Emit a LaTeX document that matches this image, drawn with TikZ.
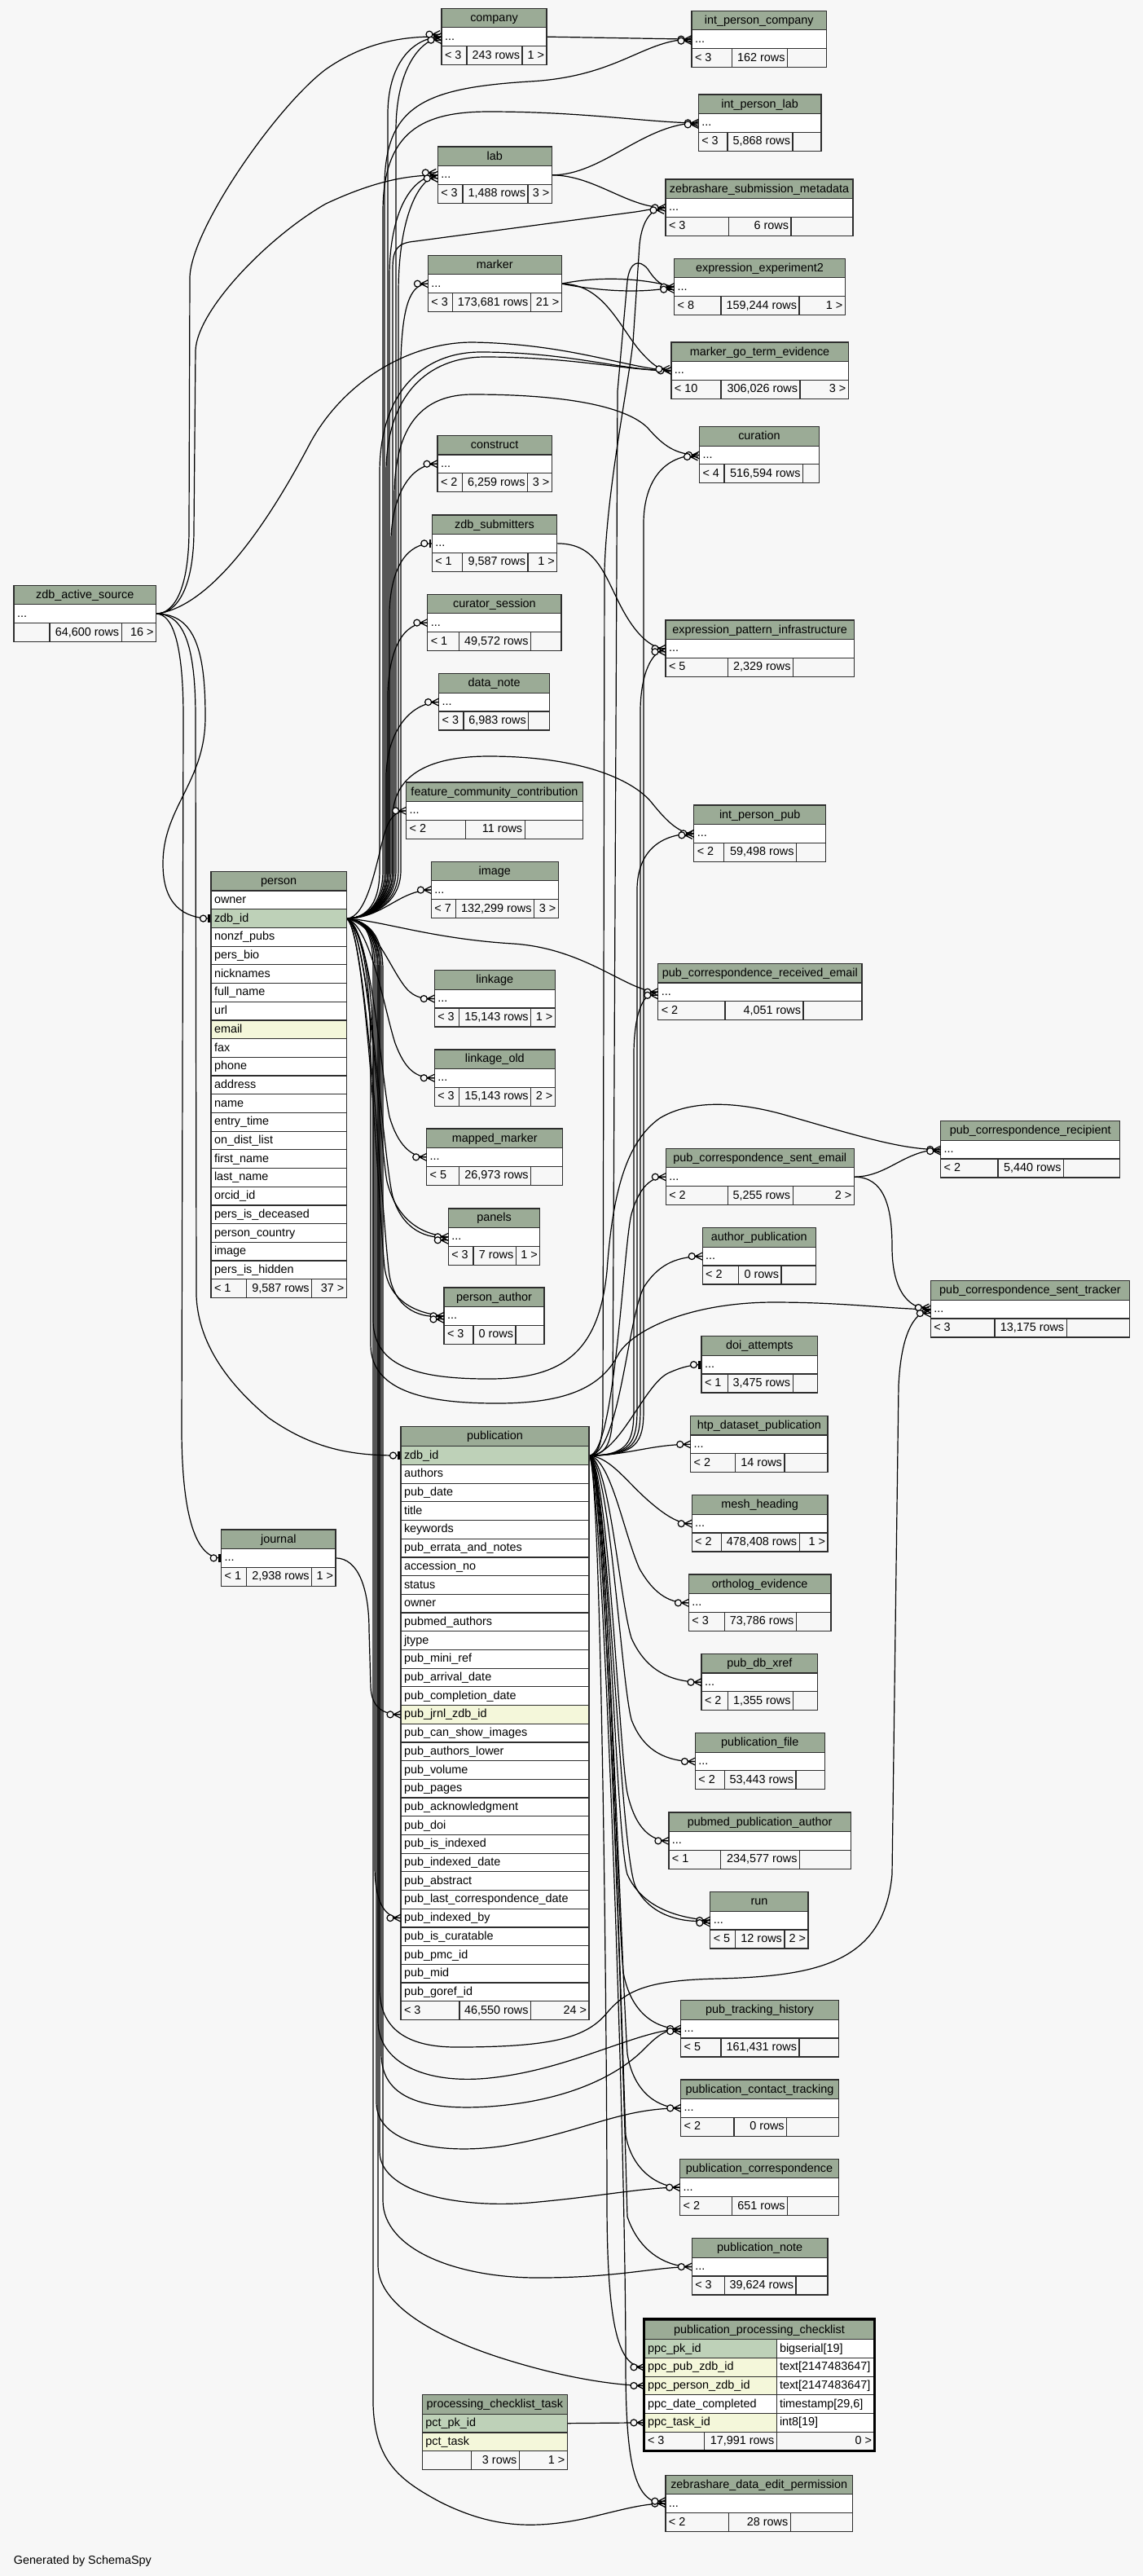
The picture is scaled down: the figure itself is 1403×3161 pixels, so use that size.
\documentclass[tikz,border=0pt]{standalone}
\usepackage{fontspec}
\setmainfont{Liberation Sans}
\usetikzlibrary{calc}
\pgfdeclarelayer{back}
\pgfdeclarelayer{edges}
\pgfsetlayers{back,edges,main}
\definecolor{bg}{HTML}{F7F7F7}
\definecolor{hd}{HTML}{9BAB96}
\definecolor{pk}{HTML}{BED1B8}
\definecolor{ix}{HTML}{F4F7DA}
\definecolor{lc}{HTML}{2E2E2E}
\newcommand\ftsz{\fontsize{7.2pt}{8.6pt}\selectfont}
\tikzset{
  cell/.style={draw=lc, line width=0.6pt, inner sep=0pt, outer sep=0pt},
  txt/.style={inner sep=0pt, outer sep=0pt, font=\ftsz, text=black},
  fkline/.style={line width=0.6pt, draw=black},
  crowo/.pic={\draw[fkline] (-9,0) -- (0,-4.5) (-9,0) -- (0,4.5) (-9,0) -- (0,0);
              \draw[fkline, fill=bg] (-13,0) circle[radius=4];},
  teeo/.pic={\draw[line width=1.3pt] (-2.5,-5) -- (-2.5,5);
             \draw[fkline, fill=bg] (-9.5,0) circle[radius=4];}
}
\newcommand\thead[6]{%
  \pgfmathsetmacro\tkW{(#3-#2)*0.5}%
  \pgfmathsetmacro\tkH{(#5)*0.5}%
  \node[cell, fill=hd, minimum width=\tkW pt, minimum height=\tkH pt, anchor=north west] (#1) at ({#2},{#4}) {};
  \node[txt, anchor=base] (#1-t) at ({(#2+#3)/2},{#4+(#5)/2+4.3}) {#6};
}
\newcommand\prow[6]{%
  \pgfmathsetmacro\tkW{(#3-#2)*0.5}%
  \node[cell, fill=#6, minimum width=\tkW pt, minimum height=11.35pt, anchor=north west] (#1) at ({#2},{#4}) {};
  \node[txt, anchor=base west] (#1-t) at ({#2+4},{#4+15.4}) {#5};
}
\newcommand\foot[9]{%
  \pgfmathsetmacro\tkA{(#3-#2)*0.5}\pgfmathsetmacro\tkB{(#4-#3)*0.5}\pgfmathsetmacro\tkC{(#5-#4)*0.5}%
  \node[cell, fill=bg, minimum width=\tkA pt, minimum height=11.5pt, anchor=north west] (#1-fa) at ({#2},{#6}) {};
  \node[cell, fill=bg, minimum width=\tkB pt, minimum height=11.5pt, anchor=north west] (#1-fb) at ({#3},{#6}) {};
  \node[cell, fill=bg, minimum width=\tkC pt, minimum height=11.5pt, anchor=north west] (#1-fc) at ({#4},{#6}) {};
  \node[txt, anchor=base west] (#1-ta) at ({#2+4},{#6+15.6}) {#7};
  \node[txt, anchor=base east] (#1-tb) at ({#4-3},{#6+15.6}) {#8};
  \node[txt, anchor=base east] (#1-tc) at ({#5-3},{#6+15.6}) {#9};
}
\newcommand\stbl[5]{%
  \thead{#1-h}{#2}{#3}{#4}{23.5}{#5}%
  \prow{#1}{#2}{#3}{#4+23.5}{...}{white}%
  \gdef\lnm{#1}\gdef\lxa{#2}\gdef\lxb{#3}\gdef\lyt{#4}%
}
\newcommand\sfoot[5]{\foot{\lnm}{\lxa}{#1}{#2}{\lxb}{\lyt+46.2}{#3}{#4}{#5}}
\newcommand\trow[5]{%
  \node[cell, fill=#5, minimum width=81.15pt, minimum height=11.35pt, anchor=north west] (#1) at (791,{#2}) {};
  \node[cell, fill=white, minimum width=59.85pt, minimum height=11.35pt, anchor=north west] (#1-r) at (953.3,{#2}) {};
  \node[txt, anchor=base west] (#1-t) at (795,{#2+15.4}) {#3};
  \node[txt, anchor=base west] (#1-u) at (957,{#2+15.4}) {#4};
}
\begin{document}
\begin{tikzpicture}[x=0.5pt,y=-0.5pt]
\begin{pgfonlayer}{back}
\fill[bg] (0,0) rectangle (1403,3161);
\end{pgfonlayer}
\useasboundingbox (0,0) rectangle (1403,3161);

% ---------- simple tables ----------
\stbl{company}{542}{671}{10.3}{company} \sfoot{573}{641}{< 3}{243 rows}{1 >}
\stbl{ipc}{849}{1014.5}{13.3}{int\_person\_company} \sfoot{898.5}{966.6}{< 3}{162 rows}{}
\stbl{ipl}{857.3}{1008}{116}{int\_person\_lab} \sfoot{893}{973}{< 3}{5,868 rows}{}
\stbl{lab}{537.3}{677.3}{180}{lab} \sfoot{568}{648}{< 3}{1,488 rows}{3 >}
\stbl{zsm}{817}{1047}{220}{zebrashare\_submission\_metadata} \sfoot{894.7}{971}{< 3}{6 rows}{}
\stbl{marker}{525.4}{689.2}{313.3}{marker} \sfoot{555.6}{651.3}{< 3}{173,681 rows}{21 >}
\stbl{ee2}{827.7}{1037.4}{317.3}{expression\_experiment2} \sfoot{885}{981}{< 8}{159,244 rows}{1 >}
\stbl{mgte}{823.9}{1041.3}{420}{marker\_go\_term\_evidence} \sfoot{885}{982}{< 10}{306,026 rows}{3 >}
\stbl{curation}{858.5}{1005.3}{523.6}{curation} \sfoot{889}{985.5}{< 4}{516,594 rows}{}
\stbl{construct}{537}{677.2}{534.4}{construct} \sfoot{567.7}{647.6}{< 2}{6,259 rows}{3 >}
\stbl{zdbs}{530.3}{683.8}{632}{zdb\_submitters} \sfoot{567.7}{648}{< 1}{9,587 rows}{1 >}
\stbl{cs}{524.8}{689}{729.3}{curator\_session} \sfoot{563.4}{651.5}{< 1}{49,572 rows}{}
\stbl{epi}{817}{1048.3}{761}{expression\_pattern\_infrastructure} \sfoot{893.3}{973.5}{< 5}{2,329 rows}{}
\stbl{dn}{538.6}{674.5}{826.7}{data\_note} \sfoot{568.9}{648.8}{< 3}{6,983 rows}{}
\stbl{fcc}{498.6}{715.3}{960}{feature\_community\_contribution} \sfoot{571.6}{644.2}{< 2}{11 rows}{}
\stbl{ipp}{851.8}{1013.5}{988}{int\_person\_pub} \sfoot{888.8}{977.6}{< 2}{59,498 rows}{}
\stbl{image}{529.4}{685.2}{1057.2}{image} \sfoot{559.7}{655.6}{< 7}{132,299 rows}{3 >}
\stbl{pcre}{807.8}{1057.9}{1182.4}{pub\_correspondence\_received\_email} \sfoot{890}{986}{< 2}{4,051 rows}{}
\stbl{linkage}{533.3}{681.3}{1190.7}{linkage} \sfoot{563.7}{651.7}{< 3}{15,143 rows}{1 >}
\stbl{lo}{533.3}{681.3}{1287.9}{linkage\_old} \sfoot{563.7}{651.7}{< 3}{15,143 rows}{2 >}
\stbl{mm}{523.7}{690.7}{1385}{mapped\_marker} \sfoot{563.3}{651.7}{< 5}{26,973 rows}{}
\stbl{pcr}{1154.7}{1374.8}{1375.7}{pub\_correspondence\_recipient} \sfoot{1225}{1305.5}{< 2}{5,440 rows}{}
\stbl{pcse}{817.3}{1048.2}{1409.3}{pub\_correspondence\_sent\_email} \sfoot{893.2}{973.1}{< 2}{5,255 rows}{2 >}
\stbl{panels}{550.3}{662.7}{1482.9}{panels} \sfoot{581}{633.3}{< 3}{7 rows}{1 >}
\stbl{ap}{862.2}{1001.3}{1506.7}{author\_publication} \sfoot{906.7}{959}{< 2}{0 rows}{}
\stbl{pcst}{1142.3}{1386.7}{1571.7}{pub\_correspondence\_sent\_tracker} \sfoot{1221}{1309.2}{< 3}{13,175 rows}{}
\stbl{pa}{545}{668}{1580}{person\_author} \sfoot{581}{633}{< 3}{0 rows}{}
\stbl{doi}{861}{1003.7}{1639.7}{doi\_attempts} \sfoot{893.2}{973.1}{< 1}{3,475 rows}{}
\stbl{htp}{847.7}{1016}{1737.5}{htp\_dataset\_publication} \sfoot{902.8}{962.9}{< 2}{14 rows}{}
\stbl{mesh}{849.2}{1016}{1834.8}{mesh\_heading} \sfoot{885.2}{981.2}{< 2}{478,408 rows}{1 >}
\stbl{oe}{845.4}{1019.9}{1932}{ortholog\_evidence} \sfoot{889.4}{977.4}{< 3}{73,786 rows}{}
\stbl{pdx}{861}{1003.8}{2029.4}{pub\_db\_xref} \sfoot{893.6}{973.6}{< 2}{1,355 rows}{}
\stbl{pf}{853.4}{1012.2}{2126.6}{publication\_file} \sfoot{889.4}{977}{< 2}{53,443 rows}{}
\stbl{ppa}{820.9}{1044.4}{2224}{pubmed\_publication\_author} \sfoot{884.8}{981.6}{< 1}{234,577 rows}{}
\stbl{run}{871.8}{992}{2321.7}{run} \sfoot{902.8}{962.9}{< 5}{12 rows}{2 >}
\stbl{pth}{835.7}{1029.3}{2454.7}{pub\_tracking\_history} \sfoot{885}{981}{< 5}{161,431 rows}{}
\stbl{pct}{835.7}{1029.3}{2552}{publication\_contact\_tracking} \sfoot{901}{965.7}{< 2}{0 rows}{}
\stbl{pcorr}{834.7}{1029.3}{2649.3}{publication\_correspondence} \sfoot{898.7}{966.7}{< 2}{651 rows}{}
\stbl{pnote}{849.3}{1016}{2746.7}{publication\_note} \sfoot{889.3}{977}{< 3}{39,624 rows}{}
\stbl{zdep}{816.9}{1046.6}{3037.3}{zebrashare\_data\_edit\_permission} \sfoot{894.8}{970.3}{< 2}{28 rows}{}
\stbl{journal}{271.7}{412}{1877}{journal} \sfoot{302.7}{382.7}{< 1}{2,938 rows}{1 >}
\stbl{zas}{17}{191.5}{718.3}{zdb\_active\_source} \sfoot{61}{149.2}{}{64,600 rows}{16 >}

% ---------- person ----------
\thead{perh}{259}{425.3}{1069.6}{23.4}{person}
\foreach \t [count=\i from 0] in {owner, zdb\_id, nonzf\_pubs, pers\_bio, nicknames, full\_name, url, email, fax, phone, address, name, entry\_time, on\_dist\_list, first\_name, last\_name, orcid\_id, pers\_is\_deceased, person\_country, image, pers\_is\_hidden}{
  \ifnum\i=1 \def\fc{pk}\else\ifnum\i=7 \def\fc{ix}\else\def\fc{white}\fi\fi
  \prow{per\i}{259}{425.3}{1093+\i*22.7}{\t}{\fc}
}
\foot{perf}{259}{302.3}{382.7}{425.3}{1569.7}{< 1}{9,587 rows}{37 >}

% ---------- publication ----------
\thead{pubh}{492}{723}{1750.6}{24.1}{publication}
\foreach \t [count=\i from 0] in {zdb\_id, authors, pub\_date, title, keywords, pub\_errata\_and\_notes, accession\_no, status, owner, pubmed\_authors, jtype, pub\_mini\_ref, pub\_arrival\_date, pub\_completion\_date, pub\_jrnl\_zdb\_id, pub\_can\_show\_images, pub\_authors\_lower, pub\_volume, pub\_pages, pub\_acknowledgment, pub\_doi, pub\_is\_indexed, pub\_indexed\_date, pub\_abstract, pub\_last\_correspondence\_date, pub\_indexed\_by, pub\_is\_curatable, pub\_pmc\_id, pub\_mid, pub\_goref\_id}{
  \ifnum\i=0 \def\fc{pk}\else\ifnum\i=14 \def\fc{ix}\else\def\fc{white}\fi\fi
  \prow{pub\i}{492}{723}{1774.7+\i*22.7}{\t}{\fc}
}
\foot{pubf}{492}{564}{651.6}{723}{2455.7}{< 3}{46,550 rows}{24 >}

% ---------- processing_checklist_task ----------
\thead{pckth}{518.4}{696.3}{2938.3}{24}{processing\_checklist\_task}
\prow{pckt1}{518.4}{696.3}{2962.3}{pct\_pk\_id}{pk}
\prow{pckt2}{518.4}{696.3}{2985}{pct\_task}{ix}
\foot{pcktf}{518.4}{578.5}{637.4}{696.3}{3007.7}{}{3 rows}{1 >}

% ---------- publication_processing_checklist ----------
\thead{ppch}{791}{1073}{2847}{23.7}{publication\_processing\_checklist}
\trow{ppc1}{2870.7}{ppc\_pk\_id}{bigserial[19]}{pk}
\trow{ppc2}{2893.4}{ppc\_pub\_zdb\_id}{text[2147483647]}{ix}
\trow{ppc3}{2916.1}{ppc\_person\_zdb\_id}{text[2147483647]}{ix}
\trow{ppc4}{2938.8}{ppc\_date\_completed}{timestamp[29,6]}{white}
\trow{ppc5}{2961.5}{ppc\_task\_id}{int8[19]}{ix}
\foot{ppcf}{791}{864.7}{953.3}{1073}{2984.2}{< 3}{17,991 rows}{0 >}
\draw[line width=1.6pt, draw=black] (790.4,2845.8) rectangle (1073.6,3007.6);

\node[txt, anchor=base west] (gen) at (17,3146) {Generated by SchemaSpy};

% ---------- connectors ----------
\begin{pgfonlayer}{edges}
% zdb_active_source
\draw[fkline] (zas.east) .. controls (215,753) and (232,720) .. (232,650) -- (233,340) .. controls (235,280) and (340,130) .. (400,85) .. controls (450,50) and (500,44) .. (company.west);
\draw[fkline] (zas.east) .. controls (218,753) and (238,720) .. (238,650) -- (240,430) .. controls (242,380) and (330,290) .. (400,250) .. controls (460,222) and (500,215) .. (lab.west);
\draw[fkline] (zas.east) .. controls (260,745) and (330,640) .. (380,545) .. controls (420,470) and (500,420) .. (580,420) .. controls (700,422) and (770,452) .. (mgte.west);
\draw[fkline] (zas.east) .. controls (240,753) and (252,800) .. (252,880) .. controls (252,960) and (200,990) .. (200,1060) .. controls (200,1110) and (225,1127) .. (per1.west);
\draw[fkline] (zas.east) .. controls (225,753) and (240,790) .. (240,880) -- (241,1590) .. controls (243,1640) and (270,1690) .. (330,1740) .. controls (390,1782) and (440,1786) .. (pub0.west);
\draw[fkline] (zas.east) .. controls (212,753) and (225,790) .. (225,880) -- (223,1760) .. controls (224,1860) and (240,1912) .. (journal.west);
% person, upwards
\draw[fkline] (per1.east) .. controls (445,1127) and (476,1115) .. (476,1068) -- (476,140) .. controls (476,80) and (505,46) .. (company.west);
\draw[fkline] (per1.east) .. controls (445,1127) and (486,1115) .. (486,1068) -- (486,160) .. controls (486,90) and (512,50) .. (company.west);
\draw[fkline] (per1.east) .. controls (445,1127) and (472,1115) .. (472,1068) -- (472,230) .. controls (472,130) and (520,108) .. (650,100) .. controls (760,94) and (790,48) .. (ipc.west);
\draw[fkline] (per1.east) .. controls (445,1127) and (470,1115) .. (470,1068) -- (470,260) .. controls (470,160) and (520,137) .. (600,137) .. controls (720,137) and (800,151) .. (ipl.west);
\draw[fkline] (per1.east) .. controls (445,1127) and (478,1115) .. (478,1068) -- (478,340) .. controls (478,260) and (505,216) .. (lab.west);
\draw[fkline] (per1.east) .. controls (445,1127) and (489,1115) .. (489,1068) -- (489,360) .. controls (489,270) and (512,220) .. (lab.west);
\draw[fkline] (per1.east) .. controls (445,1127) and (482,1115) .. (482,1068) -- (482,330) .. controls (482,305) and (488,298) .. (510,296) -- (780,260) .. controls (800,257) and (805,255) .. (zsm.west);
\draw[fkline] (per1.east) .. controls (445,1127) and (492,1115) .. (492,1068) -- (492,440) .. controls (494,380) and (502,348) .. (marker.west);
\draw[fkline] (per1.east) .. controls (445,1127) and (466,1115) .. (466,1068) -- (466,580) .. controls (466,480) and (520,432) .. (590,432) .. controls (700,432) and (765,455) .. (mgte.west);
\draw[fkline] (per1.east) .. controls (445,1127) and (474,1115) .. (474,1068) -- (474,580) .. controls (474,485) and (525,438) .. (595,438) .. controls (705,438) and (770,455) .. (mgte.west);
\draw[fkline] (per1.east) .. controls (445,1127) and (484,1115) .. (484,1068) -- (484,610) .. controls (484,520) and (520,484) .. (580,484) .. controls (700,484) and (770,500) .. (795,525) .. controls (815,548) and (830,558) .. (curation.west);
\draw[fkline] (per1.east) .. controls (445,1127) and (480,1115) .. (480,1068) -- (480,660) .. controls (482,605) and (505,569) .. (construct.west);
\draw[fkline] (per1.east) .. controls (445,1127) and (478,1115) .. (478,1068) -- (478,750) .. controls (480,695) and (500,667) .. (zdbs.west);
\draw[fkline] (per1.east) .. controls (445,1127) and (476,1115) .. (476,1068) -- (476,850) .. controls (478,795) and (495,764) .. (cs.west);
\draw[fkline] (per1.east) .. controls (445,1127) and (474,1115) .. (474,1068) -- (474,950) .. controls (476,895) and (505,862) .. (dn.west);
\draw[fkline] (per1.east) .. controls (445,1127) and (482,1115) .. (482,1068) -- (482,1000) .. controls (484,955) and (520,928) .. (600,928) .. controls (720,928) and (780,960) .. (800,985) .. controls (820,1010) and (835,1023) .. (ipp.west);
\draw[fkline] (per1.east) .. controls (450,1127) and (462,1060) .. (470,1030) .. controls (476,1005) and (485,995) .. (fcc.west);
\draw[fkline] (per1.east) .. controls (470,1127) and (490,1092) .. (image.west);
\draw[fkline] (per1.east) .. controls (470,1130) and (530,1152) .. (630,1158) .. controls (720,1164) and (770,1217) .. (pcre.west);
% person, downwards
\draw[fkline] (per1.east) .. controls (460,1135) and (475,1180) .. (495,1208) .. controls (505,1222) and (515,1226) .. (linkage.west);
\draw[fkline] (per1.east) .. controls (455,1135) and (472,1240) .. (485,1280) .. controls (497,1312) and (510,1323) .. (lo.west);
\draw[fkline] (per1.east) .. controls (455,1135) and (468,1320) .. (478,1370) .. controls (488,1405) and (505,1420) .. (mm.west);
\draw[fkline] (per1.east) .. controls (452,1135) and (466,1400) .. (475,1450) .. controls (488,1500) and (520,1515) .. (panels.west);
\draw[fkline] (per1.east) .. controls (452,1135) and (470,1420) .. (482,1468) .. controls (494,1510) and (525,1521) .. (panels.west);
\draw[fkline] (per1.east) .. controls (450,1140) and (466,1500) .. (472,1555) .. controls (478,1600) and (515,1612) .. (pa.west);
\draw[fkline] (per1.east) .. controls (450,1140) and (470,1510) .. (478,1565) .. controls (486,1610) and (520,1618) .. (pa.west);
\draw[fkline] (per1.east) .. controls (445,1140) and (458,1200) .. (458,1300) -- (458,1620) .. controls (458,1680) and (520,1692) .. (600,1692) .. controls (690,1692) and (735,1660) .. (745,1560) .. controls (752,1460) and (770,1400) .. (810,1372) .. controls (850,1348) and (910,1352) .. (970,1370) .. controls (1060,1396) and (1110,1411) .. (pcr.west);
\draw[fkline] (per1.east) .. controls (445,1140) and (455,1200) .. (455,1300) -- (455,1650) .. controls (455,1710) and (530,1722) .. (610,1722) .. controls (700,1722) and (740,1700) .. (760,1660) .. controls (780,1630) and (850,1598) .. (950,1598) .. controls (1040,1598) and (1100,1607) .. (pcst.west);
\draw[fkline] (per1.east) .. controls (445,1129) and (460,1140) .. (460,1190) -- (460,2290) .. controls (460,2330) and (470,2353) .. (pub25.west);
\draw[fkline] (per1.east) .. controls (445,1129) and (466,1140) .. (466,1190) -- (466,2440) .. controls (466,2490) and (500,2512) .. (560,2512) .. controls (680,2512) and (720,2500) .. (745,2470) .. controls (770,2440) and (800,2430) .. (880,2428) .. controls (1000,2425) and (1085,2410) .. (1095,2300) -- (1103,1700) .. controls (1106,1640) and (1120,1611) .. (pcst.west);
\draw[fkline] (per1.east) .. controls (445,1129) and (464,1140) .. (464,1190) -- (464,2480) .. controls (464,2530) and (520,2558) .. (600,2550) .. controls (700,2540) and (780,2492) .. (pth.west);
\draw[fkline] (per1.east) .. controls (445,1129) and (468,1140) .. (468,1190) -- (468,2520) .. controls (468,2575) and (520,2590) .. (600,2585) .. controls (700,2578) and (760,2545) .. (790,2515) .. controls (805,2500) and (815,2490) .. (pth.west);
\draw[fkline] (per1.east) .. controls (445,1129) and (462,1140) .. (462,1190) -- (462,2580) .. controls (462,2630) and (540,2645) .. (620,2633) .. controls (720,2615) and (760,2587) .. (pct.west);
\draw[fkline] (per1.east) .. controls (445,1129) and (466,1140) .. (466,1190) -- (466,2640) .. controls (466,2690) and (560,2710) .. (650,2703) .. controls (740,2695) and (790,2684) .. (pcorr.west);
\draw[fkline] (per1.east) .. controls (445,1129) and (470,1140) .. (470,1190) -- (470,2700) .. controls (470,2760) and (560,2795) .. (660,2795) .. controls (760,2795) and (800,2782) .. (pnote.west);
\draw[fkline] (per1.east) .. controls (445,1129) and (464,1140) .. (464,1190) -- (464,2780) .. controls (464,2830) and (540,2870) .. (620,2895) .. controls (700,2920) and (760,2927) .. (ppc3.west);
\draw[fkline] (per1.east) .. controls (445,1129) and (458,1140) .. (458,1190) -- (458,2950) .. controls (460,3020) and (490,3043) .. (540,3070) .. controls (600,3100) and (650,3105) .. (720,3090) .. controls (770,3078) and (790,3072) .. (zdep.west);
% publication, upwards
\draw[fkline] (pub0.east) .. controls (760,1786) and (790,1700) .. (820,1685) .. controls (840,1676) and (850,1675) .. (doi.west);
\draw[fkline] (pub0.east) .. controls (760,1786) and (770,1620) .. (790,1580) .. controls (810,1548) and (835,1542) .. (ap.west);
\draw[fkline] (pub0.east) .. controls (755,1786) and (765,1530) .. (775,1490) .. controls (785,1455) and (800,1444) .. (pcse.west);
\draw[fkline] (pub0.east) .. controls (770,1786) and (778,1770) .. (778,1730) -- (778,1290) .. controls (779,1240) and (790,1217) .. (pcre.west);
\draw[fkline] (pub0.east) .. controls (774,1786) and (782,1770) .. (782,1730) -- (782,1090) .. controls (783,1045) and (810,1023) .. (ipp.west);
\draw[fkline] (pub0.east) .. controls (778,1786) and (786,1770) .. (786,1730) -- (786,870) .. controls (787,825) and (800,800) .. (epi.west);
\draw[fkline] (pub0.east) .. controls (782,1786) and (790,1770) .. (790,1730) -- (790,640) .. controls (791,590) and (815,558) .. (curation.west);
\draw[fkline] (pub0.east) .. controls (744,1786) and (752,1770) .. (752,1730) -- (758,480) -- (770,345) .. controls (773,320) and (785,318) .. (795,330) .. controls (805,345) and (812,352) .. (ee2.west);
\draw[fkline] (pub0.east) .. controls (735,1786) and (740,1770) .. (740,1730) -- (742,700) .. controls (745,600) and (770,480) .. (777,420) -- (785,300) .. controls (788,270) and (800,255) .. (zsm.west);
% publication, downwards
\draw[fkline] (pub0.east) .. controls (770,1786) and (800,1772) .. (htp.west);
\draw[fkline] (pub0.east) .. controls (750,1788) and (770,1820) .. (800,1845) .. controls (820,1862) and (835,1870) .. (mesh.west);
\draw[fkline] (pub0.east) .. controls (750,1790) and (765,1880) .. (785,1925) .. controls (805,1960) and (825,1967) .. (oe.west);
\draw[fkline] (pub0.east) .. controls (748,1790) and (760,1960) .. (775,2010) .. controls (795,2055) and (830,2064) .. (pdx.west);
\draw[fkline] (pub0.east) .. controls (748,1790) and (762,2060) .. (775,2110) .. controls (790,2150) and (820,2162) .. (pf.west);
\draw[fkline] (pub0.east) .. controls (746,1790) and (760,2150) .. (770,2200) .. controls (780,2245) and (800,2259) .. (ppa.west);
\draw[fkline] (pub0.east) .. controls (746,1790) and (755,2250) .. (770,2300) .. controls (790,2345) and (840,2354) .. (run.west);
\draw[fkline] (pub0.east) .. controls (746,1790) and (760,2270) .. (780,2315) .. controls (800,2355) and (845,2360) .. (run.west);
\draw[fkline] (pub0.east) .. controls (745,1790) and (755,2300) .. (765,2420) .. controls (775,2475) and (810,2490) .. (pth.west);
\draw[fkline] (pub0.east) .. controls (744,1790) and (762,2400) .. (770,2520) .. controls (778,2570) and (810,2587) .. (pct.west);
\draw[fkline] (pub0.east) .. controls (742,1790) and (762,2450) .. (768,2620) .. controls (776,2665) and (810,2684) .. (pcorr.west);
\draw[fkline] (pub0.east) .. controls (742,1790) and (764,2500) .. (770,2720) .. controls (785,2765) and (820,2782) .. (pnote.west);
\draw[fkline] (pub0.east) .. controls (738,1790) and (745,2500) .. (745,2700) .. controls (745,2860) and (760,2905) .. (ppc2.west);
\draw[fkline] (pub0.east) .. controls (738,1790) and (768,2600) .. (768,2900) .. controls (768,3030) and (780,3072) .. (zdep.west);
% others
\draw[fkline] (company.east) -- (ipc.west);
\draw[fkline] (lab.east) .. controls (740,215) and (790,151) .. (ipl.west);
\draw[fkline] (lab.east) .. controls (730,215) and (770,255) .. (zsm.west);
\draw[fkline] (marker.east) .. controls (740,338) and (790,342) .. (ee2.west);
\draw[fkline] (marker.east) .. controls (740,358) and (790,360) .. (ee2.west);
\draw[fkline] (marker.east) .. controls (740,348) and (760,400) .. (785,430) .. controls (800,447) and (810,455) .. (mgte.west);
\draw[fkline] (zdbs.east) .. controls (730,667) and (740,700) .. (760,740) .. controls (780,780) and (800,796) .. (epi.west);
\draw[fkline] (pcse.east) .. controls (1090,1444) and (1110,1411) .. (pcr.west);
\draw[fkline] (pcse.east) .. controls (1085,1444) and (1095,1480) .. (1095,1530) .. controls (1095,1590) and (1120,1607) .. (pcst.west);
\draw[fkline] (journal.east) .. controls (440,1912) and (453,1950) .. (453,2000) -- (455,2070) .. controls (456,2095) and (470,2104) .. (pub14.west);
\draw[fkline] (pckt1.east) -- (ppc5.west);
\end{pgfonlayer}

% ---------- end symbols ----------
\pic at (company.west) {crowo}; \pic[shift={(-2,-3)}] at (company.west) {crowo}; \pic[shift={(0,4)}] at (company.west) {crowo};
\pic at (ipc.west) {crowo}; \pic[shift={(0,2)}] at (ipc.west) {crowo};
\pic at (ipl.west) {crowo}; \pic[shift={(0,2)}] at (ipl.west) {crowo};
\pic at (lab.west) {crowo}; \pic[shift={(-2,-3)}] at (lab.west) {crowo}; \pic[shift={(0,4)}] at (lab.west) {crowo};
\pic at (zsm.west) {crowo}; \pic[shift={(-2,3)}] at (zsm.west) {crowo};
\pic at (marker.west) {crowo};
\pic at (ee2.west) {crowo}; \pic[shift={(0,3)}] at (ee2.west) {crowo};
\pic at (mgte.west) {crowo}; \pic[shift={(-2,-2)}] at (mgte.west) {crowo};
\pic at (curation.west) {crowo}; \pic[shift={(-2,2)}] at (curation.west) {crowo};
\pic at (construct.west) {crowo};
\pic at (zdbs.west) {teeo};
\pic at (cs.west) {crowo};
\pic at (epi.west) {crowo}; \pic[shift={(0,4)}] at (epi.west) {crowo};
\pic at (dn.west) {crowo};
\pic at (fcc.west) {crowo};
\pic at (ipp.west) {crowo}; \pic[shift={(-2,2)}] at (ipp.west) {crowo};
\pic at (image.west) {crowo};
\pic at (pcre.west) {crowo}; \pic[shift={(0,4)}] at (pcre.west) {crowo};
\pic at (linkage.west) {crowo};
\pic at (lo.west) {crowo};
\pic at (mm.west) {crowo};
\pic at (panels.west) {crowo}; \pic[shift={(0,4)}] at (panels.west) {crowo};
\pic at (pa.west) {crowo}; \pic[shift={(0,4)}] at (pa.west) {crowo};
\pic at (pcr.west) {crowo}; \pic[shift={(0,2)}] at (pcr.west) {crowo};
\pic at (pcse.west) {crowo};
\pic at (ap.west) {crowo};
\pic at (pcst.west) {crowo}; \pic[shift={(-2,-2)}] at (pcst.west) {crowo}; \pic[shift={(0,5)}] at (pcst.west) {crowo};
\pic at (doi.west) {teeo};
\pic at (htp.west) {crowo};
\pic at (mesh.west) {crowo};
\pic at (oe.west) {crowo};
\pic at (pdx.west) {crowo};
\pic at (pf.west) {crowo};
\pic at (ppa.west) {crowo};
\pic at (run.west) {crowo}; \pic[shift={(0,3)}] at (run.west) {crowo};
\pic at (pth.west) {crowo}; \pic[shift={(0,3)}] at (pth.west) {crowo};
\pic at (pct.west) {crowo};
\pic at (pcorr.west) {crowo};
\pic at (pnote.west) {crowo};
\pic at (zdep.west) {crowo}; \pic[shift={(0,-3)}] at (zdep.west) {crowo};
\pic at (ppc2.west) {crowo};
\pic at (ppc3.west) {crowo};
\pic at (ppc5.west) {crowo};
\pic at (pub14.west) {crowo};
\pic at (pub25.west) {crowo};
\pic at (per1.west) {teeo};
\pic at (pub0.west) {teeo};
\pic at (journal.west) {teeo};
\end{tikzpicture}
\end{document}
